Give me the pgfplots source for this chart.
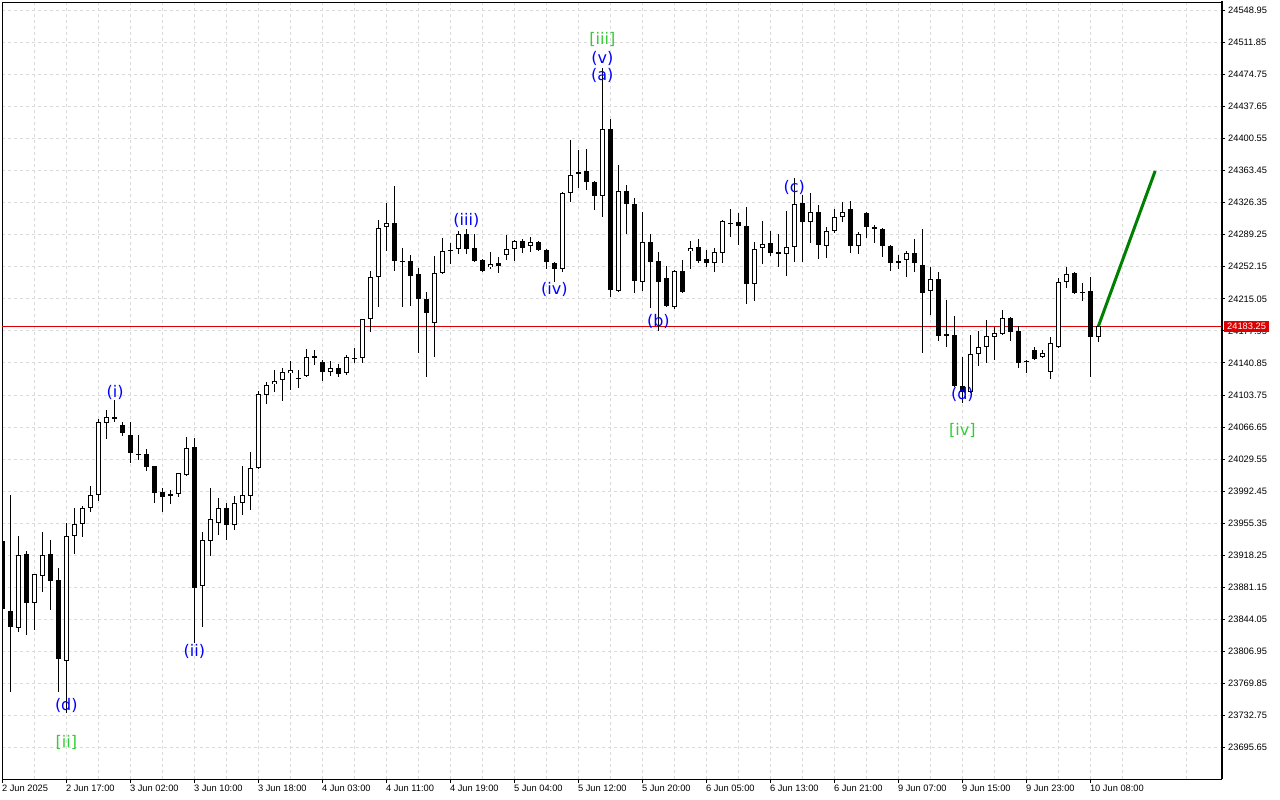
\documentclass[border=0pt]{standalone}
\usepackage{fontspec}
\setmainfont{DejaVu Sans}
\newfontfamily\tickfont{Liberation Sans}
\usepackage{pgfplots}
\usepackage{pgfplotstable}
\pgfplotsset{compat=1.18}
\definecolor{wblue}{RGB}{0,0,255}
\definecolor{wgreen}{RGB}{50,205,50}
\definecolor{fgreen}{RGB}{0,128,0}
\definecolor{pred}{RGB}{220,0,0}
\definecolor{gridc}{RGB}{218,218,218}
\newcommand\wfont{\fontsize{16}{18}\selectfont}
\newcommand\tfont{\tickfont\fontsize{9.3}{10}\selectfont}

\pgfplotstableread{
k o h l c
0 23934.6 23938.0 23852.3 23855.8
1 23853.5 23987.8 23759.7 23835.0
2 23833.8 23940.4 23829.2 23918.4
3 23919.5 23923.0 23825.7 23862.8
4 23862.8 23896.4 23831.5 23896.4
5 23894.0 23945.0 23875.5 23918.4
6 23919.5 23935.7 23854.7 23888.2
7 23889.4 23903.3 23759.7 23797.9
8 23795.6 23955.4 23735.4 23940.4
9 23940.4 23972.8 23919.5 23954.3
10 23954.3 23975.1 23939.2 23972.8
11 23972.8 23998.3 23968.2 23987.8
12 23987.8 24075.9 23980.9 24072.4
13 24071.2 24086.3 24052.7 24078.2
14 24078.2 24097.9 24072.4 24077.0
15 24068.9 24072.4 24056.2 24059.6
16 24057.3 24072.4 24024.9 24036.5
17 24035.3 24057.3 24028.4 24035.3
18 24035.3 24041.1 24015.6 24020.3
19 24021.4 24021.4 23978.6 23990.2
20 23991.3 23996.0 23968.2 23985.5
21 23986.7 23993.6 23977.4 23989.0
22 23989.0 24013.3 23985.5 24013.3
23 24011.0 24055.0 24009.8 24042.3
24 24043.4 24053.9 23816.5 23880.1
25 23882.5 23945.0 23835.0 23935.7
26 23934.6 23996.0 23917.2 23960.1
27 23955.4 23984.4 23941.5 23972.8
28 23972.8 23978.6 23935.7 23953.1
29 23953.1 23986.7 23947.3 23978.6
30 23978.6 24021.4 23964.7 23987.8
31 23986.7 24037.6 23970.5 24019.1
32 24019.1 24108.3 24017.9 24104.8
33 24103.7 24118.7 24093.2 24115.2
34 24116.4 24132.6 24107.1 24119.9
35 24121.0 24134.9 24096.7 24130.3
36 24129.1 24143.0 24109.4 24132.6
37 24123.3 24132.6 24111.8 24123.3
38 24125.7 24156.9 24124.5 24147.7
39 24148.8 24155.8 24138.4 24147.7
40 24141.9 24144.2 24119.9 24130.3
41 24130.3 24143.0 24125.7 24134.9
42 24134.9 24139.6 24124.5 24128.0
43 24129.1 24150.0 24126.8 24147.7
44 24146.5 24158.1 24140.7 24146.5
45 24146.5 24191.7 24140.7 24191.7
46 24191.7 24247.3 24176.6 24240.3
47 24240.3 24306.3 24205.6 24297.1
48 24298.2 24326.0 24270.4 24302.9
49 24302.9 24345.7 24247.3 24258.8
50 24258.8 24273.9 24205.6 24258.8
51 24258.8 24265.8 24206.7 24241.5
52 24243.8 24250.7 24152.3 24214.8
53 24214.8 24222.9 24124.5 24198.6
54 24187.0 24264.6 24147.7 24244.9
55 24244.9 24285.5 24243.8 24270.4
56 24271.6 24279.7 24255.4 24271.0
57 24272.7 24293.6 24267.0 24290.1
58 24290.1 24295.9 24267.0 24272.7
59 24273.9 24290.1 24257.7 24258.8
60 24260.0 24261.2 24246.1 24247.3
61 24251.9 24269.3 24249.6 24255.4
62 24256.5 24263.5 24244.9 24253.0
63 24265.8 24289.0 24260.0 24272.7
64 24272.7 24283.2 24258.8 24282.0
65 24282.0 24284.3 24268.1 24273.9
66 24276.2 24286.6 24269.3 24280.8
67 24280.8 24282.0 24270.4 24271.6
68 24271.6 24272.7 24249.6 24257.7
69 24256.5 24257.7 24234.5 24249.6
70 24249.6 24338.8 24246.1 24337.6
71 24337.6 24399.0 24327.2 24358.4
72 24359.6 24387.4 24343.4 24361.9
73 24363.1 24388.6 24341.1 24350.3
74 24350.3 24351.5 24317.9 24334.1
75 24334.1 24482.4 24309.8 24411.7
76 24411.7 24423.3 24217.1 24225.3
77 24224.1 24370.0 24222.9 24339.9
78 24339.9 24346.9 24290.1 24324.9
79 24324.9 24331.8 24221.8 24235.7
80 24234.5 24315.6 24224.1 24280.8
81 24280.8 24290.1 24204.4 24257.7
82 24258.8 24269.3 24177.8 24234.5
83 24239.2 24253.0 24205.6 24206.7
84 24205.6 24248.4 24203.3 24247.3
85 24247.3 24260.0 24221.8 24222.9
86 24270.4 24282.0 24249.6 24273.9
87 24275.1 24284.3 24256.5 24258.8
88 24261.2 24271.6 24251.9 24256.5
89 24256.5 24273.9 24246.1 24269.3
90 24268.1 24306.3 24256.5 24305.2
91 24302.9 24319.1 24286.6 24302.9
92 24304.0 24314.4 24277.4 24299.4
93 24299.4 24321.4 24209.0 24232.2
94 24232.2 24280.8 24212.5 24272.7
95 24273.9 24305.2 24255.4 24278.5
96 24279.7 24293.6 24264.6 24268.1
97 24269.3 24290.1 24251.9 24267.0
98 24267.0 24316.7 24241.5 24275.1
99 24275.1 24355.0 24257.7 24324.9
100 24326.0 24335.3 24257.7 24304.0
101 24304.0 24337.6 24279.7 24315.6
102 24315.6 24323.7 24261.2 24277.4
103 24276.2 24298.2 24262.3 24293.6
104 24293.6 24319.1 24291.3 24309.8
105 24309.8 24327.2 24304.0 24315.6
106 24319.1 24328.3 24268.1 24276.2
107 24276.2 24292.4 24267.0 24290.1
108 24314.4 24315.6 24285.5 24298.2
109 24298.2 24300.5 24279.7 24295.9
110 24295.9 24297.1 24263.5 24276.2
111 24276.2 24277.4 24247.3 24256.5
112 24258.8 24265.8 24249.6 24257.7
113 24260.0 24270.4 24240.3 24268.1
114 24268.1 24284.3 24246.1 24256.5
115 24254.2 24295.9 24152.3 24221.8
116 24224.1 24251.9 24196.3 24238.0
117 24238.0 24246.1 24166.2 24172.0
118 24172.0 24213.7 24159.2 24174.3
119 24173.1 24195.1 24112.9 24114.1
120 24114.1 24147.7 24094.4 24107.1
121 24107.1 24173.1 24106.0 24151.1
122 24151.1 24177.8 24137.2 24159.2
123 24159.2 24190.5 24140.7 24172.0
124 24170.8 24182.4 24144.2 24175.5
125 24174.3 24202.1 24173.1 24192.8
126 24192.8 24194.0 24166.2 24176.6
127 24177.8 24183.6 24134.9 24140.7
128 24143.0 24144.2 24129.1 24142.4
129 24155.8 24159.2 24144.2 24145.4
130 24147.7 24155.8 24146.5 24152.3
131 24130.3 24170.8 24122.2 24163.9
132 24159.2 24239.2 24158.1 24234.5
133 24234.5 24251.9 24227.6 24243.8
134 24244.9 24246.1 24220.6 24221.8
135 24222.9 24233.4 24212.5 24222.9
136 24224.1 24240.3 24124.5 24170.8
137 24170.8 24184.0 24165.0 24183.25
}\candles

\begin{document}
\begin{tikzpicture}
\path[use as bounding box] (-2pt,-21pt) rectangle (1278pt,779pt);
\begin{axis}[
  at={(0pt,0pt)}, anchor=south west,
  scale only axis, width=1219pt, height=777pt,
  xmin=-0.04, xmax=152.33,
  ymin=23658.94, ymax=24558.78,
  axis line style={black, line width=0.8pt},
  xtick={0,8,...,136},
  xticklabels={2 Jun 2025, 2 Jun 17:00, 3 Jun 02:00, 3 Jun 10:00, 3 Jun 18:00, 4 Jun 03:00, 4 Jun 11:00, 4 Jun 19:00, 5 Jun 04:00, 5 Jun 12:00, 5 Jun 20:00, 6 Jun 05:00, 6 Jun 13:00, 6 Jun 21:00, 9 Jun 07:00, 9 Jun 15:00, 9 Jun 23:00, 10 Jun 08:00},
  minor xtick={4,12,...,148},
  ytick={23695.65,23732.75,23769.85,23806.95,23844.05,23881.15,23918.25,23955.35,23992.45,24029.55,24066.65,24103.75,24140.85,24177.95,24215.05,24252.15,24289.25,24326.35,24363.45,24400.55,24437.65,24474.75,24511.85,24548.95},
  yticklabels={23695.65,23732.75,23769.85,23806.95,23844.05,23881.15,23918.25,23955.35,23992.45,24029.55,24066.65,24103.75,24140.85,24177.95,24215.05,24252.15,24289.25,24326.35,24363.45,24400.55,24437.65,24474.75,24511.85,24548.95},
  xtick pos=left, ytick pos=right, yticklabel pos=right,
  tick align=outside,
  major tick length=4pt, minor tick length=0pt,
  tick style={black, line width=0.8pt},
  grid=both,
  major grid style={gridc, dash pattern=on 3pt off 3pt, line width=0.8pt},
  minor grid style={gridc, dash pattern=on 3pt off 3pt, line width=0.8pt},
  xticklabel style={font=\tfont, anchor=north west, xshift=-1.5pt, yshift=-1pt, inner sep=1pt},
  yticklabel style={font=\tfont, anchor=west, xshift=2pt, inner sep=1pt},
]
% current price line
\addplot[pred, line width=1pt, forget plot] coordinates {(-1,24183.25) (153,24183.25)};
% wicks
\addplot[draw=none, mark=none, forget plot,
  error bars/.cd, y dir=both, y explicit, error mark=none,
  error bar style={line width=1pt, draw=black}]
  table[x=k, y expr={(\thisrow{h}+\thisrow{l})/2}, y error expr={(\thisrow{h}-\thisrow{l})/2}] {\candles};
% bodies
\addplot[draw=none, mark=none, forget plot,
  error bars/.cd, y dir=both, y explicit, error mark=none,
  error bar style={line width=5pt, draw=black}]
  table[x=k, y expr={(\thisrow{o}+\thisrow{c})/2}, y error expr={max(abs(\thisrow{o}-\thisrow{c})/2,0.6)}] {\candles};
% white interiors of rising candles
\addplot[draw=none, mark=none, forget plot,
  error bars/.cd, y dir=both, y explicit, error mark=none,
  error bar style={line width=3pt, draw=white}]
  table[x=k, y expr={(\thisrow{o}+\thisrow{c})/2}, y error expr={(\thisrow{c}>\thisrow{o})*max((\thisrow{c}-\thisrow{o})/2-1.2,0)}] {\candles};
% forecast line
\addplot[fgreen, line width=3pt, forget plot] coordinates {(137,24183.25) (144.1,24363.1)};
% wave labels
\node[text=wblue, font=\wfont] at (axis cs:14.1,24107.1) {(i)};
\node[text=wblue, font=\wfont] at (axis cs:24,23807.2) {(ii)};
\node[text=wblue, font=\wfont] at (axis cs:8,23744.6) {(d)};
\node[text=wgreen, font=\wfont] at (axis cs:8,23701.8) {[ii]};
\node[text=wblue, font=\wfont] at (axis cs:58,24306.3) {(iii)};
\node[text=wblue, font=\wfont] at (axis cs:69,24225.3) {(iv)};
\node[text=wgreen, font=\wfont] at (axis cs:75,24515.9) {[iii]};
\node[text=wblue, font=\wfont] at (axis cs:75,24493.9) {(v)};
\node[text=wblue, font=\wfont] at (axis cs:75,24473.1) {(a)};
\node[text=wblue, font=\wfont] at (axis cs:82,24189.3) {(b)};
\node[text=wblue, font=\wfont] at (axis cs:99,24344.5) {(c)};
\node[text=wblue, font=\wfont] at (axis cs:120,24104.8) {(d)};
\node[text=wgreen, font=\wfont] at (axis cs:120,24062.0) {[iv]};
\end{axis}
\draw[line width=2pt, black] (1219.5pt,-0.5pt) -- (1219.5pt,777.5pt);
\node[fill=pred, text=white, font=\tfont, anchor=west, inner xsep=3pt, inner ysep=2.5pt] at (1222pt,452.7pt) {24183.25};
\end{tikzpicture}
\end{document}
